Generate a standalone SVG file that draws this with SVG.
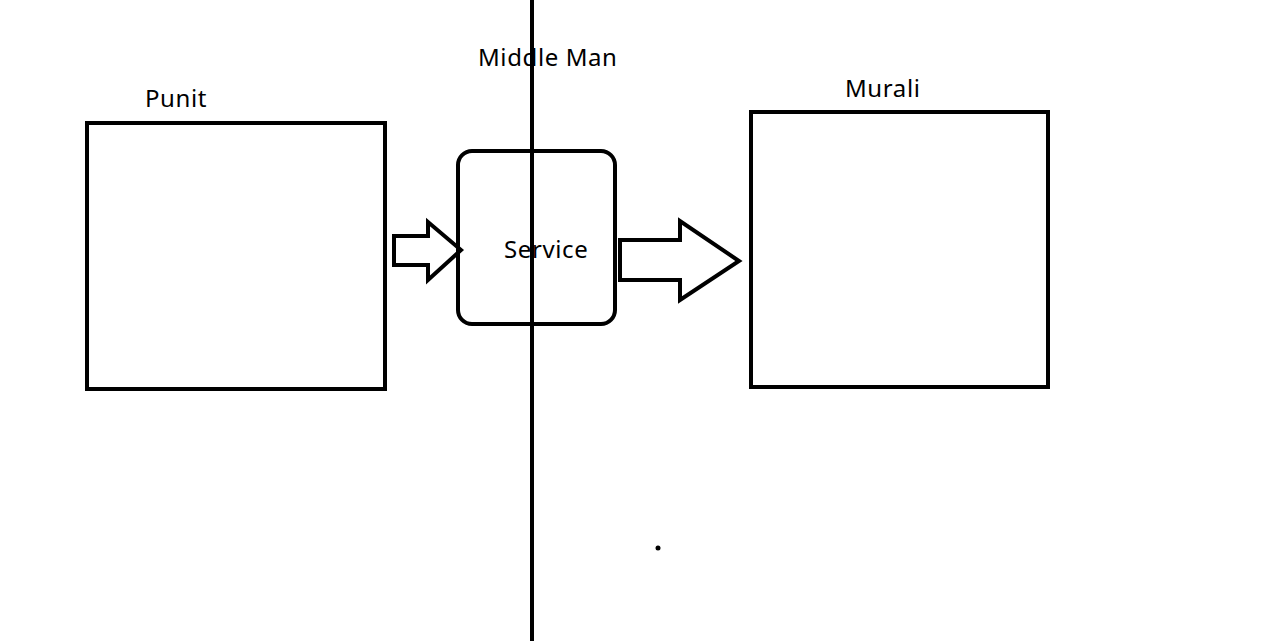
<svg xmlns="http://www.w3.org/2000/svg" width="1280" height="641" viewBox="0 0 1280 641">
<style>
.box{fill:none;stroke:#000;stroke-width:4}
.t{font-family:"Noto Sans","Open Sans",sans-serif;font-size:24px;letter-spacing:0.6px;fill:#000}
</style>
<rect width="1280" height="641" fill="#fff"/>
<g id="punit">
<rect class="box" x="87" y="123" width="298" height="266"/>
<text class="t" x="145" y="107">Punit</text>
</g>
<g id="murali">
<rect class="box" x="751" y="112" width="297" height="275"/>
<text class="t" x="845" y="97">Murali</text>
</g>
<g id="service">
<rect class="box" x="458" y="151" width="157" height="173" rx="14"/>
<text class="t" x="504" y="258">Service</text>
</g>
<g id="middle-man">
<text class="t" x="478" y="66">Middle Man</text>
<line x1="532" y1="0" x2="532" y2="641" stroke="#000" stroke-width="4"/>
</g>
<g id="connectors">
<polygon class="box" points="394,236 428,236 428,222 461,250 428,280 428,265 394,265"/>
<polygon class="box" points="620,240 680,240 680,221 739,261 680,300 680,280 620,280"/>
</g>
<circle cx="658" cy="548" r="2.5" fill="#000"/>
</svg>
